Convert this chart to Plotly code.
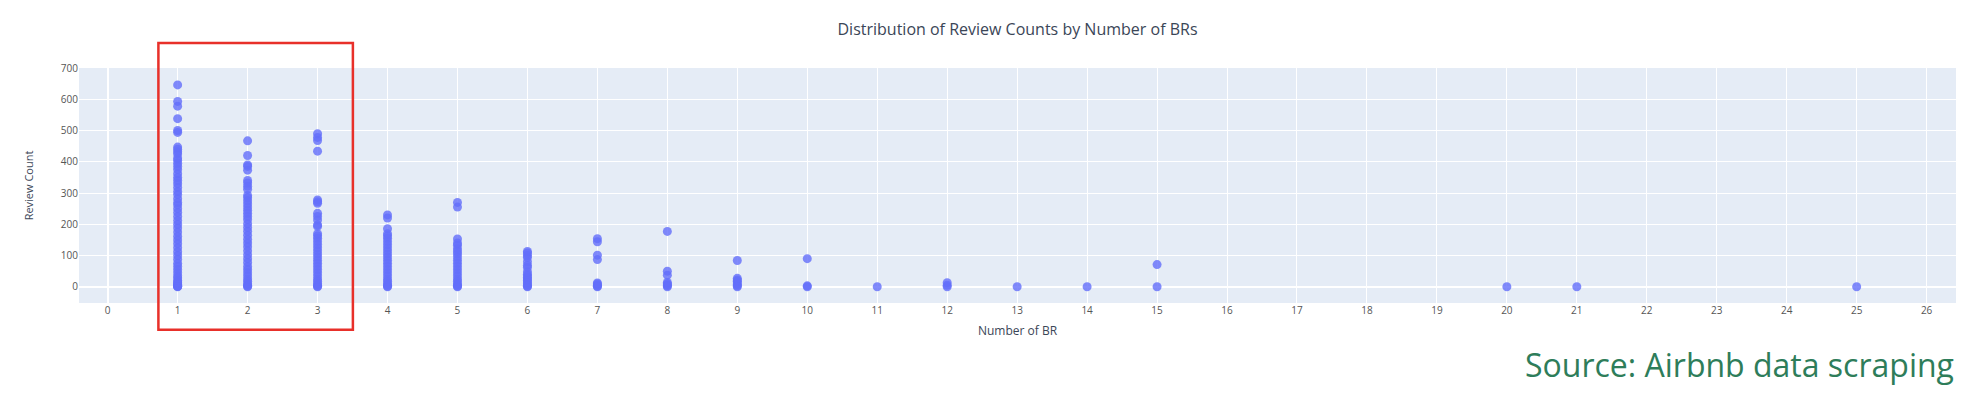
import plotly.graph_objects as go

# Review counts read per number of bedrooms (BR)
br1 = [0, 1, 2, 3, 5, 8, 12, 15, 20, 28, 35, 45, 55, 65, 75, 88, 100, 112, 125, 138, 150, 162, 175, 188,
       200, 212, 225, 238, 250, 262, 270, 282, 295, 305, 318, 330, 340, 350, 362, 375, 385, 395, 405,
       412, 425, 432, 440, 447, 494, 500, 538, 578, 593, 646]
br2 = [0, 2, 5, 10, 18, 25, 35, 45, 55, 65, 78, 90, 102, 115, 128, 140, 152, 165, 178, 190, 202, 215,
       225, 235, 245, 255, 265, 275, 285, 292, 312, 322, 332, 340, 373, 385, 390, 420, 467]
br3 = [0, 2, 5, 10, 18, 25, 35, 45, 55, 65, 75, 85, 95, 105, 115, 125, 135, 145, 155, 163, 170, 193,
       198, 214, 225, 235, 267, 272, 278, 434, 468, 478, 490]
br4 = [0, 2, 5, 10, 18, 25, 35, 45, 55, 65, 75, 85, 95, 105, 115, 125, 135, 145, 155, 163, 170, 186,
       220, 230]
br5 = [0, 2, 5, 10, 18, 25, 35, 45, 55, 65, 75, 85, 95, 105, 113, 122, 133, 140, 153, 255, 270]
br6 = [0, 2, 5, 10, 15, 20, 25, 30, 35, 40, 48, 62, 69, 80, 94, 100, 108, 113]
br7 = [0, 2, 5, 9, 12, 87, 101, 144, 154]
br8 = [0, 3, 6, 10, 14, 37, 50, 177]
br9 = [0, 3, 7, 12, 18, 22, 27, 84]
br10 = [0, 3, 90]
br11 = [0]
br12 = [0, 5, 13]
br13 = [0]
br14 = [0]
br15 = [0, 71]
br20 = [0]
br21 = [0]
br25 = [0]

groups = {1: br1, 2: br2, 3: br3, 4: br4, 5: br5, 6: br6, 7: br7, 8: br8, 9: br9, 10: br10,
          11: br11, 12: br12, 13: br13, 14: br14, 15: br15, 20: br20, 21: br21, 25: br25}

xs, ys = [], []
for k, vals in groups.items():
    xs += [k] * len(vals)
    ys += vals

fig = go.Figure(go.Scatter(
    x=xs, y=ys, mode="markers",
    marker=dict(color="#636efa", size=9, opacity=0.8, line=dict(width=0)),
))

fig.update_layout(
    width=1968, height=398,
    template="plotly",
    font=dict(family="Open Sans", color="#2a3f5f"),
    margin=dict(l=71, r=20, t=60, b=103, autoexpand=False),
    title=dict(text="Distribution of Review Counts by Number of BRs", x=0.5, xref="paper",
               xanchor="center", y=1 - 21 / 398, yanchor="middle",
               font=dict(size=16, color="#3b4657")),
    showlegend=False,
    paper_bgcolor="white",
    plot_bgcolor="#e5ecf6",
)
fig.update_xaxes(title=dict(text="Number of BR", font=dict(size=12, color="#3b4657"), standoff=10),
                 range=[-0.41, 26.42], dtick=1, tick0=0, tickfont=dict(size=10, color="#555"),
                 gridcolor="white", zerolinecolor="white", automargin=False)
fig.update_yaxes(title=dict(text="Review Count", font=dict(size=11, color="#3b4657"), standoff=24),
                 range=[-52, 700], dtick=100, tick0=0, tickfont=dict(size=10, color="#555"),
                 gridcolor="white", zerolinecolor="white", zerolinewidth=2, automargin=False)

# red highlight box around BR 1-3
fig.add_shape(type="rect", xref="x", yref="paper", x0=0.725, x1=3.505, y0=-0.114, y1=1.106,
              line=dict(color="#e8302a", width=2.5), fillcolor="rgba(0,0,0,0)")

fig.add_annotation(text="Source: Airbnb data scraping", xref="paper", yref="paper",
                   x=1, y=-0.263, xanchor="right", yanchor="middle", showarrow=False,
                   font=dict(size=32, color="#2e7d5a", family="Open Sans"))

fig.write_html("out.html")
